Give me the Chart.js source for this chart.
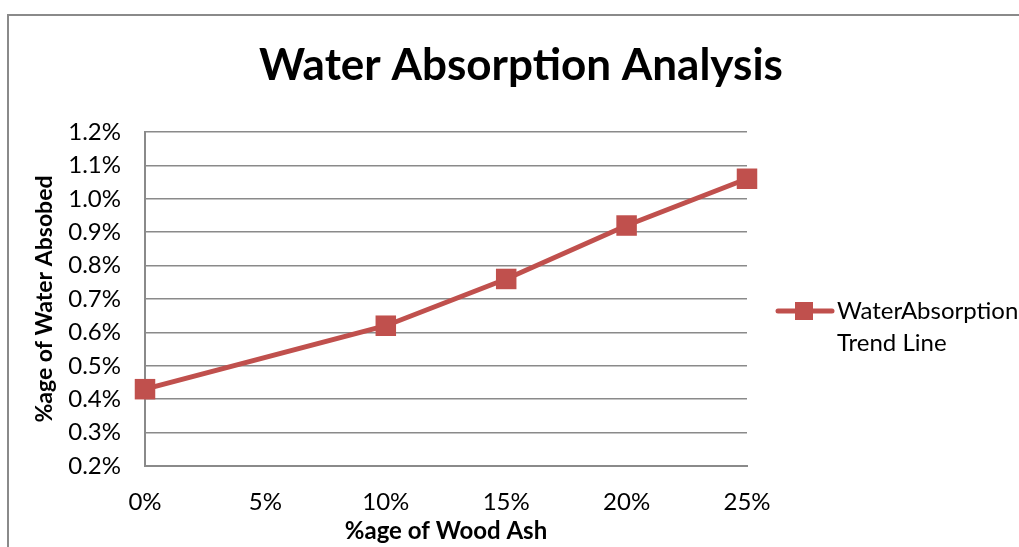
<!DOCTYPE html>
<html>
<head>
<meta charset="utf-8">
<script src="https://cdn.jsdelivr.net/npm/chart.js@4"></script>
<style>
  html, body { margin: 0; padding: 0; background: #fff; }
  #box { position: relative; width: 1019px; height: 547px; }
</style>
</head>
<body>
<div id="box"><canvas id="absorptionChart" width="1019" height="547"></canvas></div>
<script>
// data
const woodAsh = [0, 10, 15, 20, 25];            // %age of wood ash
const absorption = [0.43, 0.62, 0.76, 0.92, 1.06]; // %age of water absorbed
const seriesLabel = ["WaterAbsorption", "Trend Line"];
const chartTitle = "Water Absorption Analysis";
const xTitle = "%age of Wood Ash";
const yTitle = "%age of Water Absobed";

const red = "#C0504D";
const fontFamily = "Lato, 'Open Sans', sans-serif";

// title, legend and outer frame drawn by hand
const extras = {
    id: "extras",
    afterDraw(chart) {
        const ctx = chart.ctx;
        ctx.save();

        // frame
        ctx.strokeStyle = "#8a8a8a";
        ctx.lineWidth = 2;
        ctx.beginPath();
        ctx.moveTo(8, 547);
        ctx.lineTo(8, 15);
        ctx.lineTo(1019, 15);
        ctx.stroke();

        // title
        ctx.fillStyle = "#000";
        ctx.font = "bold 44px " + fontFamily;
        ctx.textAlign = "center";
        ctx.textBaseline = "middle";
        ctx.fillText(chartTitle, 521, 66);

        // legend
        const ly = 311;
        ctx.strokeStyle = red;
        ctx.lineWidth = 5;
        ctx.lineCap = "round";
        ctx.beginPath();
        ctx.moveTo(778, ly);
        ctx.lineTo(832, ly);
        ctx.stroke();
        ctx.fillStyle = red;
        ctx.fillRect(795, ly - 9, 18, 18);

        ctx.fillStyle = "#000";
        ctx.font = "24px " + fontFamily;
        ctx.textAlign = "left";
        seriesLabel.forEach((t, i) => {
            ctx.fillText(t, 837, ly + i * 32);
        });

        ctx.restore();
    }
};

new Chart(document.getElementById("absorptionChart"), {
    type: "line",
    data: {
        datasets: [{
            label: seriesLabel.join(" "),
            data: woodAsh.map((x, i) => ({ x: x, y: absorption[i] })),
            borderColor: red,
            backgroundColor: red,
            borderWidth: 5,
            pointStyle: "rect",
            pointRadius: 14.5,
            pointHoverRadius: 14.5,
            pointBorderWidth: 0,
            tension: 0,
            clip: false
        }]
    },
    options: {
        responsive: false,
        animation: false,
        layout: { padding: { top: 132, right: 272, left: 0, bottom: 0 } },
        plugins: {
            legend: { display: false },
            title: { display: false },
            tooltip: { enabled: false }
        },
        scales: {
            x: {
                type: "linear",
                min: 0,
                max: 25,
                ticks: {
                    stepSize: 5,
                    padding: 22,
                    color: "#000",
                    font: { family: fontFamily, size: 24 },
                    callback: v => v + "%"
                },
                grid: { display: false, drawTicks: false },
                border: { color: "#8a8a8a", width: 2 },
                title: {
                    display: true,
                    text: xTitle,
                    color: "#000",
                    font: { family: fontFamily, size: 24, weight: "bold" },
                    padding: { top: 0, bottom: 1 }
                },
                afterFit(scale) { scale.height = 81; }
            },
            y: {
                min: 0.2,
                max: 1.2,
                ticks: {
                    stepSize: 0.1,
                    padding: 24,
                    color: "#000",
                    font: { family: fontFamily, size: 24 },
                    callback: v => v.toFixed(1) + "%"
                },
                grid: { color: "#8a8a8a", lineWidth: 1.5, drawTicks: false },
                border: { color: "#8a8a8a", width: 2 },
                title: {
                    display: true,
                    text: yTitle,
                    color: "#000",
                    font: { family: fontFamily, size: 23, weight: "bold" },
                    padding: { top: 31, bottom: 0 }
                },
                afterFit(scale) { scale.width = 145; }
            }
        }
    },
    plugins: [extras]
});
</script>
</body>
</html>
